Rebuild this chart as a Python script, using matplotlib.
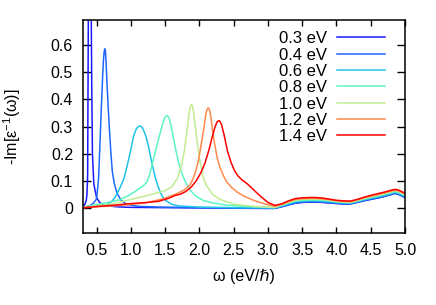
import matplotlib
matplotlib.use('Agg')
import matplotlib.pyplot as plt

plt.rcParams['font.family'] = ['Liberation Sans', 'DejaVu Sans']
plt.rcParams['mathtext.fontset'] = 'custom'
plt.rcParams['mathtext.rm'] = 'Liberation Sans'

# values
labels = ['0.3 eV', '0.4 eV', '0.6 eV', '0.8 eV', '1.0 eV', '1.2 eV', '1.4 eV']
colors = ['#1a1aff', '#1f66ff', '#20c4e8', '#5cf5c0', '#c2ec94', '#ff8a4c', '#ff0000']

x03 = [0.30, 0.33, 0.35, 0.36, 0.37, 0.38, 0.39, 0.40, 0.41, 0.42, 0.43, 0.44, 0.46, 0.50,
       0.55, 0.65, 0.8, 1.0, 1.5, 2.0, 2.5, 3.0, 3.1]
y03 = [0.006, 0.015, 0.03, 0.05, 0.12, 0.70, 1.50, 1.80, 1.40, 0.80, 0.45, 0.20, 0.09, 0.04,
       0.02, 0.01, 0.006, 0.004, 0.003, 0.002, 0.001, 0.000, 0.000]

x04 = [0.30, 0.40, 0.45, 0.50, 0.53, 0.55, 0.57, 0.59, 0.60, 0.61, 0.62, 0.63, 0.64, 0.65, 0.67, 0.69,
       0.71, 0.73, 0.76, 0.80, 0.86, 0.94, 1.1, 1.4, 2.0, 2.5, 3.0, 3.1]
y04 = [0.003, 0.01, 0.018, 0.035, 0.11, 0.24, 0.37, 0.49, 0.54, 0.572, 0.585, 0.575, 0.53, 0.47, 0.37, 0.28,
       0.20, 0.135, 0.09, 0.055, 0.03, 0.015, 0.008, 0.005, 0.003, 0.002, 0.001, 0.001]

x06 = [0.30, 0.45, 0.55, 0.65, 0.72, 0.78, 0.84, 0.90, 0.95, 1.00, 1.04, 1.08, 1.12, 1.15,
       1.18, 1.22, 1.26, 1.30, 1.35, 1.40, 1.45, 1.50, 1.60, 1.70, 2.0, 2.5, 3.0, 3.1]
y06 = [0.003, 0.006, 0.009, 0.014, 0.025, 0.045, 0.075, 0.11, 0.16, 0.215, 0.265, 0.292, 0.302, 0.301,
       0.29, 0.265, 0.225, 0.175, 0.12, 0.078, 0.048, 0.03, 0.015, 0.009, 0.005, 0.003, 0.002, 0.002]

x08 = [0.30, 0.50, 0.70, 0.85, 0.95, 1.05, 1.12, 1.18, 1.23, 1.27, 1.31, 1.35, 1.39, 1.43, 1.47,
       1.50, 1.53, 1.56, 1.59, 1.62, 1.66, 1.70, 1.75, 1.80, 1.87, 1.95, 2.06, 2.2, 2.4, 2.7, 3.1]
y08 = [0.005, 0.014, 0.024, 0.033, 0.045, 0.06, 0.072, 0.083, 0.095, 0.12, 0.16, 0.2, 0.24, 0.278, 0.315,
       0.336, 0.341, 0.33, 0.30, 0.26, 0.21, 0.165, 0.125, 0.095, 0.066, 0.045, 0.029, 0.02, 0.012, 0.007, 0.003]

x10 = [0.30, 0.70, 1.0, 1.2, 1.4, 1.5, 1.6, 1.68, 1.74, 1.78, 1.82, 1.84, 1.86, 1.88, 1.90, 1.92,
       1.94, 1.97, 2.0, 2.05, 2.1, 2.2, 2.3, 2.5, 2.8, 3.1]
y10 = [0.004, 0.015, 0.033, 0.045, 0.058, 0.065, 0.08, 0.11, 0.16, 0.21, 0.285, 0.33, 0.365, 0.381, 0.375, 0.345,
       0.30, 0.24, 0.185, 0.12, 0.085, 0.05, 0.033, 0.016, 0.007, 0.004]

x12 = [0.3, 0.8, 1.2, 1.47, 1.67, 1.78, 1.86, 1.91, 1.95, 1.99, 2.03, 2.07, 2.09, 2.11, 2.13, 2.15,
       2.17, 2.19, 2.22, 2.26, 2.30, 2.35, 2.40, 2.47, 2.55, 2.65, 2.8, 2.95, 3.1]
y12 = [0.004, 0.01, 0.02, 0.035, 0.054, 0.068, 0.085, 0.11, 0.14, 0.18, 0.24, 0.30, 0.34, 0.362, 0.369, 0.36,
       0.33, 0.29, 0.24, 0.185, 0.15, 0.12, 0.097, 0.077, 0.06, 0.045, 0.029, 0.017, 0.008]

x14 = [0.3, 0.5, 0.8, 1.0, 1.2, 1.4, 1.55, 1.65, 1.72, 1.8, 1.88, 1.95, 2.02, 2.08, 2.14,
       2.19, 2.23, 2.26, 2.29, 2.32, 2.36, 2.41, 2.46, 2.51, 2.56, 2.62, 2.7, 2.8, 2.9, 3.0, 3.1]
y14 = [0.002, 0.007, 0.013, 0.018, 0.021, 0.026, 0.037, 0.048, 0.052, 0.062, 0.078, 0.1, 0.13, 0.165, 0.215,
       0.265, 0.3, 0.318, 0.322, 0.31, 0.27, 0.21, 0.17, 0.14, 0.12, 0.105, 0.09, 0.066, 0.043, 0.022, 0.011]

# high energy part, shared grid
tail_x = [3.2, 3.3, 3.4, 3.5, 3.6, 3.7, 3.8, 3.9, 4.0, 4.1, 4.2, 4.3, 4.4, 4.5, 4.6, 4.7, 4.8, 4.85, 4.9, 5.0]
t03 = [0.006, 0.013, 0.019, 0.022, 0.023, 0.023, 0.022, 0.020, 0.018, 0.016, 0.016, 0.022, 0.028, 0.033, 0.038, 0.044, 0.051, 0.055, 0.052, 0.040]
t04 = [0.007, 0.014, 0.020, 0.023, 0.024, 0.024, 0.023, 0.021, 0.019, 0.017, 0.017, 0.023, 0.029, 0.034, 0.039, 0.045, 0.052, 0.056, 0.053, 0.041]
t06 = [0.009, 0.017, 0.024, 0.027, 0.028, 0.028, 0.027, 0.025, 0.022, 0.020, 0.019, 0.025, 0.032, 0.037, 0.042, 0.048, 0.055, 0.059, 0.056, 0.044]
t08 = [0.011, 0.020, 0.027, 0.030, 0.031, 0.031, 0.030, 0.027, 0.024, 0.022, 0.021, 0.027, 0.034, 0.040, 0.045, 0.051, 0.058, 0.062, 0.059, 0.047]
t10 = [0.013, 0.022, 0.030, 0.033, 0.034, 0.034, 0.033, 0.030, 0.026, 0.024, 0.023, 0.029, 0.036, 0.043, 0.048, 0.054, 0.061, 0.065, 0.062, 0.050]
t12 = [0.015, 0.025, 0.033, 0.036, 0.037, 0.037, 0.035, 0.032, 0.028, 0.026, 0.025, 0.031, 0.039, 0.045, 0.051, 0.057, 0.064, 0.067, 0.065, 0.053]
t14 = [0.017, 0.028, 0.036, 0.039, 0.040, 0.040, 0.038, 0.034, 0.030, 0.028, 0.027, 0.033, 0.041, 0.048, 0.054, 0.060, 0.067, 0.070, 0.068, 0.056]

series = [(x03, y03, t03), (x04, y04, t04), (x06, y06, t06), (x08, y08, t08),
          (x10, y10, t10), (x12, y12, t12), (x14, y14, t14)]

xticks = [0.5, 1.0, 1.5, 2.0, 2.5, 3.0, 3.5, 4.0, 4.5, 5.0]
yticks = [0, 0.1, 0.2, 0.3, 0.4, 0.5, 0.6]

fig = plt.figure(figsize=(4.36, 3.05), dpi=100)
ax = fig.add_axes([0.190, 0.236, 0.739, 0.698])

for (xs, ys, ts), lab, c in zip(series, labels, colors):
    ax.plot(xs + tail_x, ys + ts, color=c, lw=1.1, label=lab)

ax.set_xlim(0.3, 5.0)
ax.set_ylim(-0.09, 0.69)
ax.set_xticks(xticks)
ax.set_xticklabels(['%.1f' % t for t in xticks])
ax.set_yticks(yticks)
ax.set_yticklabels(['0'] + ['%.1f' % t for t in yticks[1:]])
ax.tick_params(axis='both', direction='in', top=True, right=True, labelsize=11.5, width=1.0)
ax.tick_params(axis='x', length=4.5, pad=7)
ax.tick_params(axis='y', length=5.5, pad=7)
for s in ax.spines.values():
    s.set_linewidth(1.1)

ax.set_xlabel('ω (eV/ℏ)', fontsize=11.5, labelpad=8)
ax.set_ylabel('-Im[ε$^{\\mathregular{-1}}$(ω)]', fontsize=11.5, labelpad=20)

ax.legend(loc='upper right', bbox_to_anchor=(0.938, 0.948), frameon=False, markerfirst=False,
          fontsize=12, handlelength=2.9, handletextpad=0.6, labelspacing=0.08,
          borderpad=0, borderaxespad=0)

plt.savefig('out.png', dpi=100)
plt.close()
